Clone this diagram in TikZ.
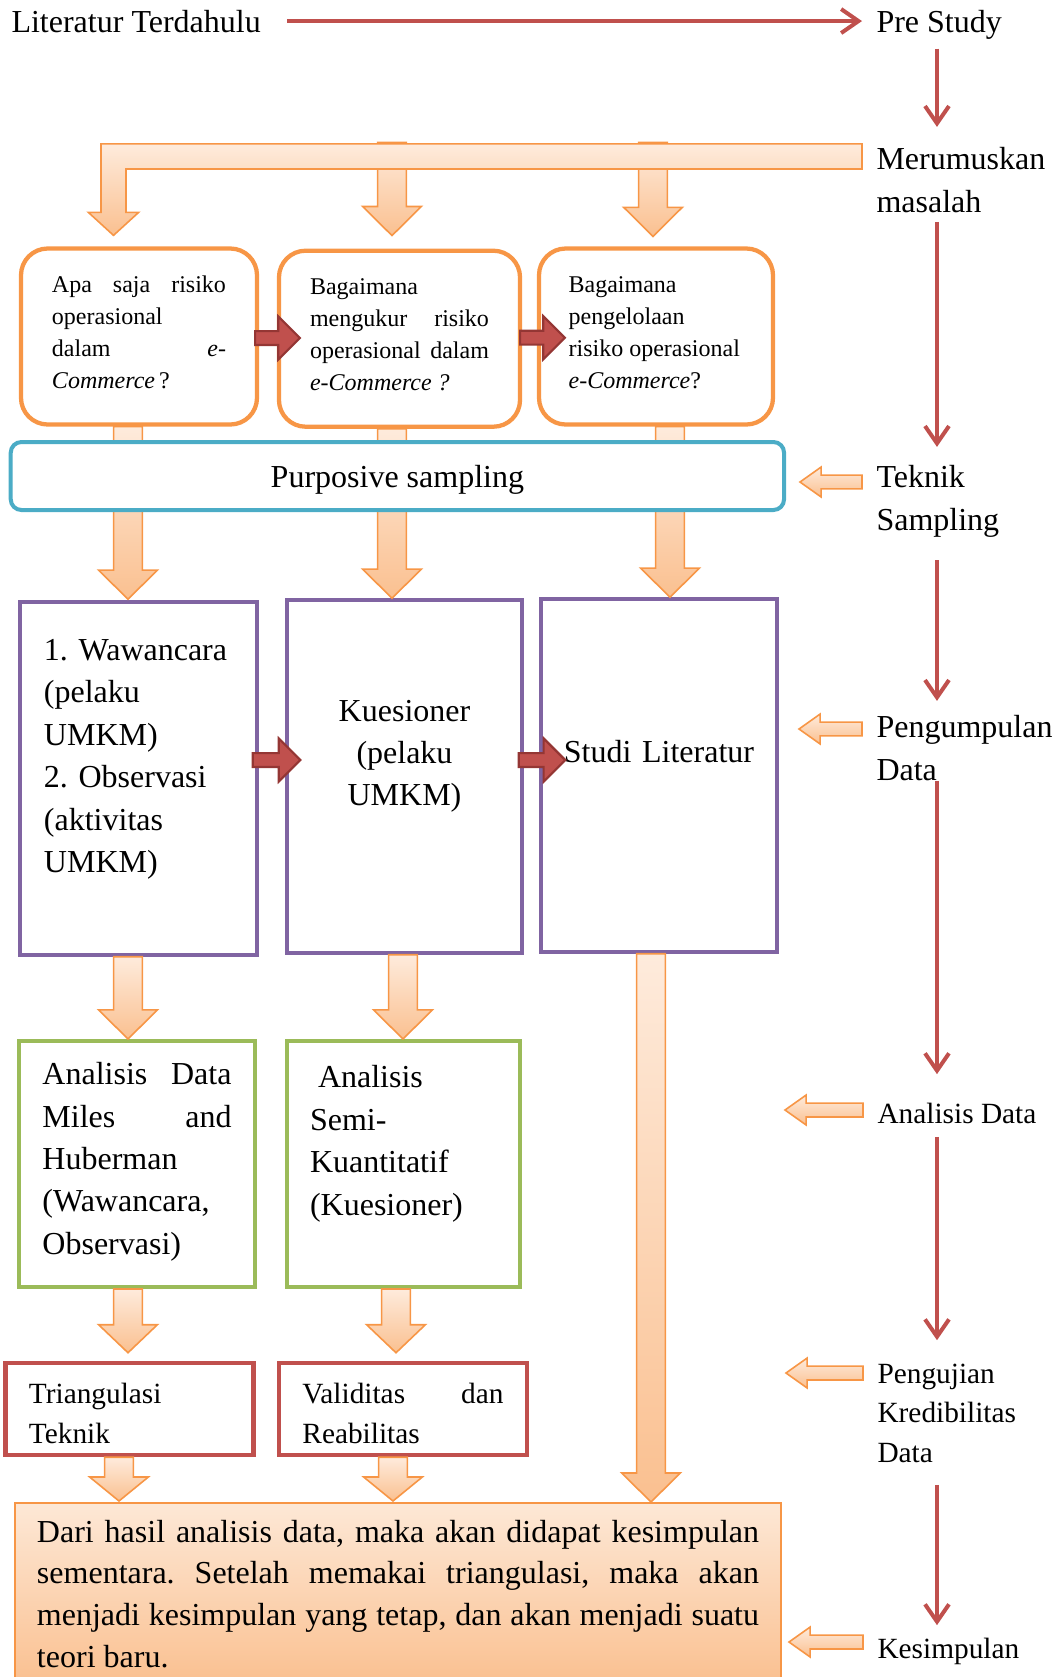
\documentclass[tikz,border=0pt]{standalone}
\usepackage{fontspec}
\setmainfont{Liberation Serif}
\usetikzlibrary{arrows.meta,calc}
\definecolor{orbord}{HTML}{F79646}
\definecolor{orlite}{HTML}{FEEBDC}
\definecolor{ormid}{HTML}{FAC090}
\definecolor{botlite}{HTML}{FDE8D6}
\definecolor{redmid}{HTML}{C0504D}
\definecolor{reddark}{HTML}{943634}
\definecolor{purp}{HTML}{8064A2}
\definecolor{grn}{HTML}{9BBB59}
\definecolor{sampblue}{HTML}{4BACC6}
\tolerance=10000 \hyphenpenalty=10000 \exhyphenpenalty=10000 \frenchspacing

\newcommand\boxlift[1]{\par\kern#1}
\newcommand\fatdown[4]{%
  \draw[orfat] let \p1=(#1), \p2=($(#2)+(0,-#4)$) in
    (\x1-5.4pt,\y1) -- (\x1-5.4pt,\y2+#3) -- (\x1-11pt,\y2+#3) -- (\x1,\y2)
    -- (\x1+11pt,\y2+#3) -- (\x1+5.4pt,\y2+#3) -- (\x1+5.4pt,\y1) -- cycle;}
\newcommand\fatright[5]{%
  \draw[redfat] let \p1=($(#1)+(#3,#5)$), \p2=($(#2)+(#4,0)$) in
    (\x1,\y1-2.6pt) -- (\x2-8.1pt,\y1-2.6pt) -- (\x2-8.1pt,\y1-8.1pt) -- (\x2,\y1)
    -- (\x2-8.1pt,\y1+8.1pt) -- (\x2-8.1pt,\y1+2.6pt) -- (\x1,\y1+2.6pt) -- cycle;}
\newcommand\fatleft[2]{%
  \draw[orfat] let \p1=($(#1.west |- #2)+(-14,0)$), \p2=(#2) in
    (\x1,\y2-2.6pt) -- (\x2+7.9pt,\y2-2.6pt) -- (\x2+7.9pt,\y2-5.6pt) -- (\x2,\y2)
    -- (\x2+7.9pt,\y2+5.6pt) -- (\x2+7.9pt,\y2+2.6pt) -- (\x1,\y2+2.6pt) -- cycle;}

\begin{document}
\begin{tikzpicture}
  [x=0.375pt, y=-0.375pt,
   lbl/.style={font=\fontsize{12}{15.9}\selectfont, inner sep=0pt, anchor=base west, align=left},
   lbls/.style={lbl, font=\fontsize{11}{14.8}\selectfont},
   qbox/.style={draw=orbord, line width=1.6pt, rounded corners=10pt, fill=white, inner sep=0pt,
     align=justify, minimum height=66pt, font=\fontsize{9}{12}\selectfont},
   pbox/.style={draw=purp, line width=1.3pt, fill=white, inner sep=0pt, minimum height=132.4pt,
     text width=70.9pt, font=\fontsize{12}{15.9}\selectfont},
   gbox/.style={draw=grn, line width=1.5pt, fill=white, inner sep=0pt, minimum height=92.25pt,
     font=\fontsize{12}{15.9}\selectfont},
   rbox/.style={draw=redmid, line width=1.7pt, fill=white, inner sep=0pt, minimum height=34.5pt,
     text width=75.4pt, font=\fontsize{11}{15}\selectfont},
   orfat/.style={draw=orbord, line width=0.6pt, top color=orlite, bottom color=ormid},
   redfat/.style={draw=reddark, line width=0.8pt, fill=redmid},
   redline/.style={draw=redmid, line width=1.5pt, -{Straight Barb[length=6.5pt,width=9pt]}}]

  \useasboundingbox (0,0) rectangle (1059,1677);
  \clip (0,0) rectangle (1059,1677);

  \foreach \n/\x in {c1/128,c2/392,c3/653,c4/670,c5/403,c6/651,c7/396,c8/119,c9/393,rx/937}
    \coordinate (\n) at (\x,0);

  % multi-line labels sit on their last line
  \node[lbl] (lit) at (11,32) {Literatur Terdahulu};
  \node[lbl] (pre) at (876,32) {Pre Study};
  \node[lbl] (mer) at (876,212) {Merumuskan\\masalah};
  \node[lbl] (tek) at (876,530) {Teknik\\Sampling};
  \node[lbl] (pen) at (876,780) {Pengumpulan\\Data};
  \node[lbls] (ana) at (877,1123) {Analisis Data};
  \node[lbls] (uji) at (877,1462) {Pengujian\\Kredibilitas\\Data};
  \node[lbls] (kes) at (877,1658) {Kesimpulan};

  \node[qbox, minimum width=88.5pt, text width=65.25pt] (q1) at (139,336.5)
    {Apa saja risiko\linebreak operasional\newline dalam \textit{e-}\linebreak \textit{Commerce}\,?\boxlift{2.8pt}};
  \node[qbox, minimum width=90.4pt, text width=67.1pt] (q2) at (399.5,338.7)
    {Bagaimana\newline mengukur risiko\linebreak operasional dalam\linebreak \textit{e-Commerce ?}\boxlift{2.8pt}};
  \node[qbox, minimum width=87.75pt, text width=65.5pt] (q3) at (656,336.5)
    {Bagaimana\newline pengelolaan\newline risiko operasional\newline \textit{e-Commerce}?\boxlift{2.8pt}};

  \node[pbox, minimum width=88.9pt, align=left] (p1) at (138.5,778.5)
    {1. Wawancara\\(pelaku\\UMKM)\\2. Observasi\\(aktivitas\\UMKM)\boxlift{14.4pt}};
  \node[pbox, minimum width=88.1pt, align=center] (p2) at (404.5,776.5)
    {Kuesioner\\(pelaku\\UMKM)\boxlift{15.2pt}};
  \node[pbox, minimum width=88.5pt, text width=75pt, align=center] (p3) at (659,775.5)
    {Studi Literatur\boxlift{17.6pt}};

  \node[gbox, minimum width=88.5pt, text width=70.9pt, align=justify] (g1) at (137,1164)
    {Analisis Data\linebreak Miles and\linebreak Huberman\newline (Wawancara,\newline Observasi)\boxlift{1.6pt}};
  \node[gbox, minimum width=87.4pt, text width=70.1pt, align=left] (g2) at (403.5,1164)
    {\hspace*{.25em}Analisis\\Semi-\\Kuantitatif\\(Kuesioner)\boxlift{15.2pt}};

  \node[rbox, minimum width=93pt, align=left] (r1) at (129.5,1409) {Triangulasi\\Teknik\boxlift{-3pt}};
  \node[rbox, minimum width=93pt, align=justify] (r2) at (403,1409) {Validitas dan\linebreak Reabilitas\boxlift{-3pt}};

  \node[draw=orbord, line width=0.6pt, top color=botlite, bottom color=ormid, anchor=north,
        inner sep=0pt, minimum width=287.25pt, minimum height=68.25pt, text width=270.75pt,
        align=justify, font=\fontsize{12}{15.6}\selectfont] (bot) at (398,1502)
    {Dari hasil analisis data, maka akan didapat kesimpulan\linebreak sementara. Setelah memakai
     triangulasi, maka akan\linebreak menjadi kesimpulan yang tetap, dan akan menjadi suatu\linebreak
     teori baru.};

  \coordinate (bar) at ($(mer.base west)+(-14,-69.5)$);
  \foreach \s/\t/\h/\g in {bar -| c2/q2.north -| c2/10.9pt/13, bar -| c3/q3.north -| c3/10.9pt/10,
      q1.south -| c1/p1.north -| c1/10.9pt/1, q2.south -| c2/p2.north -| c2/10.9pt/0,
      q3.south -| c4/p3.north -| c4/10.9pt/0, p1.south -| c1/g1.north -| c1/10.9pt/0,
      p2.south -| c5/g2.north -| c5/10.9pt/0, p3.south -| c6/bot.north -| c6/10.9pt/0,
      g1.south -| c1/r1.north -| c1/10.5pt/8, g2.south -| c7/r2.north -| c7/10.5pt/8,
      r1.south -| c8/bot.north -| c8/9pt/1, r2.south -| c9/bot.north -| c9/9pt/1}
    \fatdown{\s}{\t}{\h}{\g};

  \draw[orfat] let \p1=($(mer.base west)+(-14,-43)$), \p2=($(q1.north)+(-25.5,-11)$) in
    (\x1,\y1) -- (\x1,\y1+9.4pt) -- (\x2-4.7pt,\y1+9.4pt) -- (\x2-4.7pt,\y2+8.6pt)
    -- (\x2-9.4pt,\y2+8.6pt) -- (\x2,\y2) -- (\x2+9.4pt,\y2+8.6pt) -- (\x2+4.7pt,\y2+8.6pt)
    -- (\x2+4.7pt,\y1) -- cycle;

  \foreach \a/\b/\s/\t/\d in {q1/q2/-4/23/1.5, q2/q3/-2/28/-1, p1/p2/-6/15/-18.5, p2/p3/-5/26/-16.5}
    \fatright{\a.east}{\b.west}{\s}{\t}{\d};

  \coordinate (tekA) at (800,482);
  \coordinate (penA) at (799,729);
  \coordinate (anaA) at (785,1110);
  \coordinate (ujiA) at (786,1373);
  \coordinate (kesA) at (789,1642);
  \foreach \lb/\tp in {tek/tekA, pen/penA, ana/anaA, uji/ujiA, kes/kesA}
    \fatleft{\lb}{\tp};

  \draw[redline, shorten <=9.75pt, shorten >=5.25pt] (lit.east) -- (lit.east -| pre.west);
  \foreach \from/\to/\a/\b in {pre/mer/3.4/7.5, mer/tek/3.4/6.75, tek/pen/8.6/5.25,
      pen/ana/0/10.5, ana/uji/4.9/8.6, uji/kes/8.25/4.5}
    \draw[redline, shorten <=\a pt, shorten >=\b pt] (\from.south -| rx) -- (\to.north -| rx);

  \node[draw=sampblue, line width=1.5pt, rounded corners=4pt, fill=white, minimum width=290pt,
        minimum height=25.5pt, text height=11.4pt, text depth=2.6pt,
        font=\fontsize{12}{15.9}\selectfont] (ps) at (397.4,476)
    {Purposive sampling};
\end{tikzpicture}
\end{document}
